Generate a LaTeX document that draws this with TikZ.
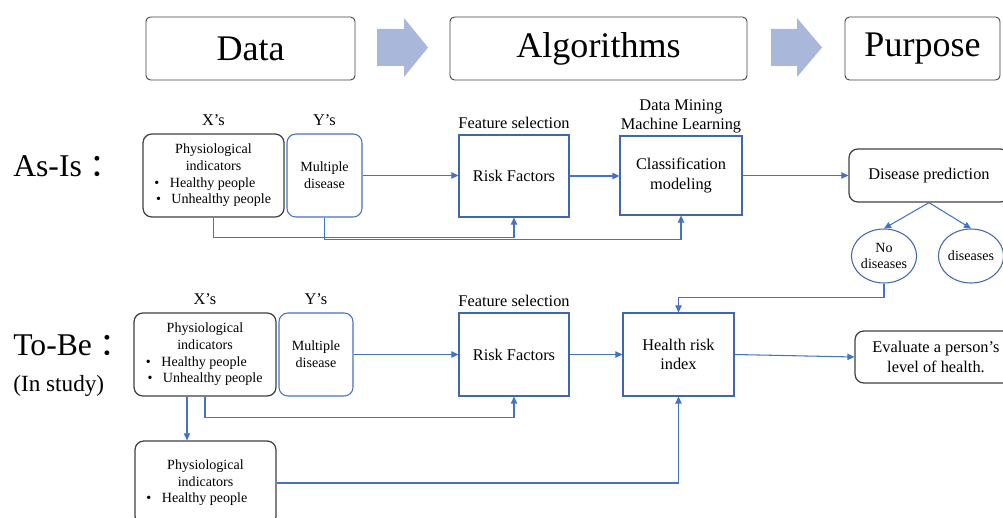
\documentclass[tikz,border=0pt]{standalone}
\usepackage{fontspec}
\setmainfont{Liberation Serif}
\newfontfamily\cjk{Noto Sans CJK SC}
\usetikzlibrary{arrows.meta}
\usetikzlibrary{positioning}
\usetikzlibrary{shapes.geometric}

\definecolor{lineblue}{HTML}{4472C4}
\definecolor{boxblue}{HTML}{4066AD}
\definecolor{edgegray}{HTML}{404040}
\definecolor{arrowfill}{HTML}{A9B7DB}

\newcommand{\bul}{\textbullet\hspace{0.75em}}
\newcommand{\fcolon}{{\cjk ：}}

\begin{document}
\begin{tikzpicture}[x=0.02cm,y=-0.02cm,>/.tip={Triangle[length=4pt,width=3.6pt]},
	hbox/.style={draw=edgegray,line width=0.5pt,rounded corners=2.5pt,minimum height=1.26cm,font=\fontsize{20.5pt}{24pt}\selectfont},
	rbox/.style={draw=edgegray,line width=0.7pt,rounded corners=5pt,align=center,inner sep=0pt},
	ybox/.style={draw=lineblue,line width=0.6pt,rounded corners=5pt,align=center,inner sep=0pt,minimum width=1.5cm,minimum height=1.66cm,font=\fontsize{8pt}{9.5pt}\selectfont},
	sbox/.style={draw=boxblue,line width=0.6pt,align=center,inner sep=0pt,minimum height=1.64cm,font=\fontsize{9.3pt}{11.2pt}\selectfont},
	small/.style={font=\fontsize{8pt}{9.45pt}\selectfont},
	mid/.style={font=\fontsize{9.3pt}{11.2pt}\selectfont},
	flow/.style={->,draw=lineblue,line width=0.6pt}]
	\useasboundingbox (0,0) rectangle (1003,517);

	% top row
	\draw (250.5,48.5) node (data) [hbox,minimum width=4.18cm] {Data};
	\draw (598.5,48.5) node (algo) [hbox,minimum width=5.94cm] {Algorithms};
	\draw (922.5,48.5) node (purp) [hbox,minimum width=3.1cm] {Purpose};
	\fill[arrowfill] (377,29) -- (404,29) -- (404,18) -- (428,47.5) -- (404,77) -- (404,66) -- (377,66) -- cycle;
	\fill[arrowfill] (771,29) -- (797,29) -- (797,18) -- (822,47.5) -- (797,77) -- (797,66) -- (771,66) -- cycle;

	% as-is
	\node (asis) [anchor=base west,font=\fontsize{18pt}{21pt}\selectfont,inner sep=0pt] at (13,176) {As-Is \fcolon};
	\draw (213.5,175.5) node (xa) [rbox,small,minimum width=2.82cm,minimum height=1.66cm]
		{Physiological\\indicators\\\bul Healthy people\phantom{Un}\\\bul Unhealthy people};
	\node [mid,above=1pt of xa] {X’s};
	\draw (324.5,175.5) node (ya) [ybox] {Multiple\\disease};
	\node [mid,above=1pt of ya] {Y’s};
	\draw (514,176) node (riska) [sbox,minimum width=2.2cm] {Risk Factors};
	\node [mid,above=0pt of riska] {Feature selection};
	\draw (681,175.5) node (clsa) [sbox,minimum width=2.44cm,minimum height=1.58cm] {Classification\\modeling};
	\node [mid,align=center,inner sep=1pt,above=0pt of clsa] {Data Mining\\Machine Learning};
	\draw (929,175.5) node (pred) [rbox,mid,minimum width=3.2cm,minimum height=1.06cm] {Disease prediction};
	\draw (884,256) node (nodis) [ellipse,draw=boxblue,line width=0.6pt,small,align=center,inner sep=0pt,minimum width=1.16cm,minimum height=1.08cm] {No\\diseases};
	\draw (971,256) node (dis) [ellipse,draw=boxblue,line width=0.6pt,small,inner sep=0pt,minimum width=1.16cm,minimum height=1.08cm] {diseases};

	\draw[flow] (ya.east) -- (ya.east -| riska.west);
	\draw[flow] (riska.east) -- (riska.east -| clsa.west);
	\draw[flow] (clsa.east) -- (clsa.east -| pred.west);
	\draw[flow] (xa.south) -- ++(0,20) -| (riska.south);
	\draw[flow] (ya.south) -- ++(0,22) -| (clsa.south);
	\draw[flow] (pred.south) -- (nodis.north);
	\draw[flow] (pred.south) -- (dis.north);

	% to-be
	\node (tobe) [anchor=base west,font=\fontsize{18pt}{21pt}\selectfont,inner sep=0pt] at (13,355) {To-Be \fcolon};
	\node (study) [anchor=base west,font=\fontsize{13.2pt}{16pt}\selectfont,inner sep=0pt] at (13,391) {(In study)};
	\draw (205,354.5) node (xb) [rbox,small,minimum width=2.84cm,minimum height=1.66cm]
		{Physiological\\indicators\\\bul Healthy people\phantom{Un}\\\bul Unhealthy people};
	\node [mid,above=1pt of xb] {X’s};
	\draw (316,354.5) node (yb) [ybox,minimum width=1.48cm] {Multiple\\disease};
	\node [mid,above=1pt of yb] {Y’s};
	\draw (514,354.5) node (riskb) [sbox,minimum width=2.2cm,minimum height=1.66cm] {Risk Factors};
	\node [mid,above=0pt of riskb] {Feature selection};
	\draw (678.5,354.5) node (hri) [sbox,minimum width=2.22cm,minimum height=1.66cm] {Health risk\\index};
	\draw (936,357) node (eval) [rbox,mid,minimum width=3.24cm,minimum height=1.04cm] {Evaluate a person’s\\level of health.};
	\draw (205.5,483) node (xc) [rbox,small,minimum width=2.82cm,minimum height=1.68cm]
		{Physiological\\indicators\\\bul Healthy people\phantom{Un}};

	\draw[flow] (yb.east) -- (yb.east -| riskb.west);
	\draw[flow] (riskb.east) -- (hri.west);
	\draw[flow] (hri.east) -- (eval.west);
	\draw[flow] (xb.south) -- ++(0,21) -| (riskb.south);
	\draw[flow] ([xshift=-0.36cm]xb.south) -- ([xshift=-0.36cm]xb.south |- xc.north);
	\draw[flow] (xc.east) -| (hri.south);
	\draw[flow] (nodis.south) -- ++(0,14) -| (hri.north);
\end{tikzpicture}
\end{document}
